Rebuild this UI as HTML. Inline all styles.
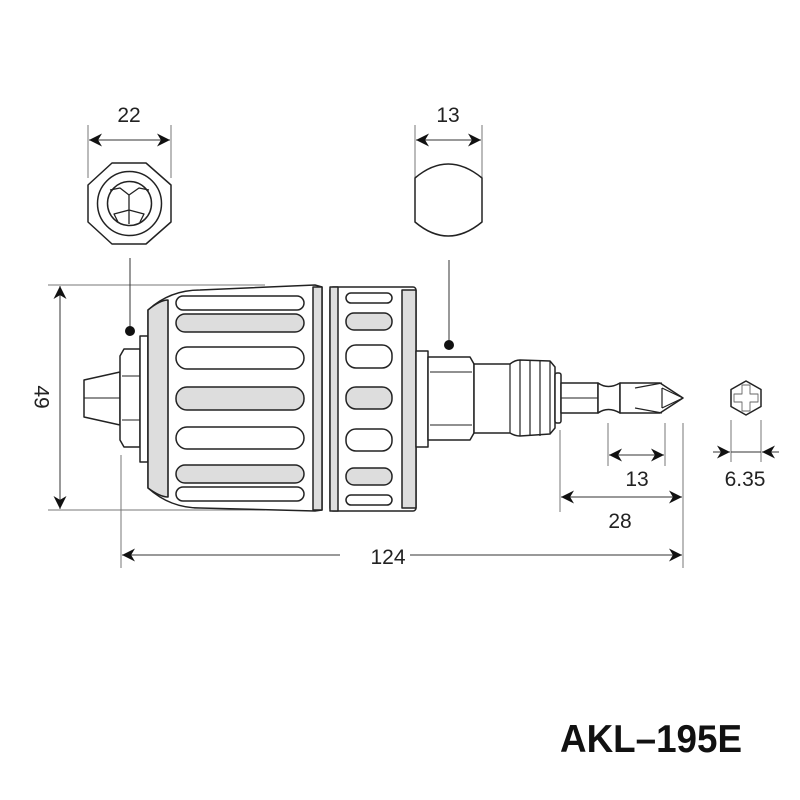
<!DOCTYPE html>
<html><head><meta charset="utf-8"><style>body{margin:0;background:#fff}svg{display:block}text{font-family:"Liberation Sans",sans-serif;fill:#222}</style></head><body>
<svg width="800" height="800" viewBox="0 0 800 800" xmlns="http://www.w3.org/2000/svg">
<defs>
<marker id="a" viewBox="0 0 10 10" refX="10" refY="5" markerWidth="15" markerHeight="13" markerUnits="userSpaceOnUse" orient="auto-start-reverse"><path d="M0,0 L10,5 L0,10 L3,5Z" fill="#111"/></marker>
</defs>
<g stroke="#777" stroke-width="1" fill="none">
<line x1="88" y1="125" x2="88" y2="178"/><line x1="171" y1="125" x2="171" y2="178"/>
<line x1="89" y1="140" x2="170" y2="140" stroke="#333" marker-start="url(#a)" marker-end="url(#a)"/>
<line x1="415" y1="125" x2="415" y2="178"/><line x1="482" y1="125" x2="482" y2="178"/>
<line x1="416" y1="140" x2="481" y2="140" stroke="#333" marker-start="url(#a)" marker-end="url(#a)"/>
<line x1="48" y1="285" x2="265" y2="285"/><line x1="48" y1="510" x2="265" y2="510"/>
<line x1="60" y1="286" x2="60" y2="509" stroke="#333" marker-start="url(#a)" marker-end="url(#a)"/>
<line x1="121" y1="455" x2="121" y2="568"/><line x1="683" y1="423" x2="683" y2="568"/>
<line x1="122" y1="555" x2="682" y2="555" stroke="#333" marker-start="url(#a)" marker-end="url(#a)"/>
<line x1="560" y1="430" x2="560" y2="512"/>
<line x1="561" y1="497" x2="682" y2="497" stroke="#333" marker-start="url(#a)" marker-end="url(#a)"/>
<line x1="608" y1="423" x2="608" y2="466"/><line x1="665" y1="423" x2="665" y2="466"/>
<line x1="609" y1="455" x2="664" y2="455" stroke="#333" marker-start="url(#a)" marker-end="url(#a)"/>
<line x1="731" y1="420" x2="731" y2="462"/><line x1="761" y1="420" x2="761" y2="462"/>
<line x1="713" y1="452" x2="730" y2="452" stroke="#333" marker-end="url(#a)"/>
<line x1="779" y1="452" x2="762" y2="452" stroke="#333" marker-end="url(#a)"/>
<line x1="731" y1="452" x2="761" y2="452" stroke="#333"/>
<line x1="130" y1="258" x2="130" y2="330" stroke="#333"/>
<line x1="449" y1="260" x2="449" y2="344" stroke="#333"/>
</g>
<rect x="340" y="545" width="70" height="20" fill="#fff"/>
<circle cx="130" cy="331" r="5" fill="#111"/><circle cx="449" cy="345" r="5" fill="#111"/>
<g font-size="21" text-anchor="middle">
<text x="129" y="122">22</text><text x="448" y="122">13</text>
<text x="388" y="564">124</text><text x="620" y="528">28</text><text x="637" y="486">13</text><text x="745" y="486">6.35</text>
<text x="40" y="397" transform="rotate(90 40 397)" dominant-baseline="middle">49</text>
</g>
<g stroke="#222" stroke-width="1.5" fill="#fff" stroke-linejoin="round">
<polygon points="112,163 146,163 171,185 171,222 146,244 112,244 88,222 88,185"/>
<circle cx="129.5" cy="203.5" r="32"/>
<circle cx="129.5" cy="203.5" r="22"/>
<path d="M110,190 L120,188 L129,195 L139,188 L149,190 M129,195 L129,224 M129,210 L114,214 L118,222 M129,210 L144,214 L140,222" fill="none" stroke-width="1.3"/>
<path d="M415,178 Q448,150 482,178 L482,222 Q448,250 415,222 Z"/>
<polygon points="84,380 120,372 120,425 84,417"/>
<line x1="84" y1="398" x2="120" y2="398" stroke-width="1"/>
<polygon points="124,349 140,349 140,447 124,447 120,440 120,356"/>
<line x1="122" y1="376" x2="140" y2="376" stroke-width="1"/><line x1="122" y1="420" x2="140" y2="420" stroke-width="1"/>
<rect x="140" y="336" width="8" height="126" fill="#fff"/>
<path d="M148,310 Q170,290 200,290 L315,285 L322,287 L322,510 L315,511 L200,508 Q170,508 148,488 Z" fill="#fff"/>
<path d="M148,310 Q160,300 168,300 L168,497 Q160,497 148,488 Z" fill="#ddd"/>
<rect x="313" y="287" width="9" height="223" fill="#ddd"/>
<line x1="168" y1="300" x2="168" y2="497" stroke-width="1.2"/>
<rect x="330" y="287" width="86" height="224" rx="3" fill="#fff"/>
<rect x="330" y="287" width="8" height="224" fill="#ddd"/>
<rect x="402" y="290" width="14" height="218" fill="#ddd"/>
<rect x="176" y="296" width="128" height="14" rx="7"/>
<rect x="176" y="314" width="128" height="18" rx="9" fill="#ddd"/>
<rect x="176" y="347" width="128" height="22" rx="11"/>
<rect x="176" y="387" width="128" height="23" rx="11" fill="#ddd"/>
<rect x="176" y="427" width="128" height="22" rx="11"/>
<rect x="176" y="465" width="128" height="18" rx="9" fill="#ddd"/>
<rect x="176" y="487" width="128" height="14" rx="7"/>
<rect x="346" y="293" width="46" height="10" rx="5"/>
<rect x="346" y="313" width="46" height="17" rx="8" fill="#ddd"/>
<rect x="346" y="345" width="46" height="23" rx="10"/>
<rect x="346" y="387" width="46" height="22" rx="10" fill="#ddd"/>
<rect x="346" y="429" width="46" height="22" rx="10"/>
<rect x="346" y="468" width="46" height="17" rx="8" fill="#ddd"/>
<rect x="346" y="495" width="46" height="10" rx="5"/>
<rect x="416" y="351" width="12" height="96"/>
<polygon points="428,357 470,357 474,364 474,433 470,440 428,440"/>
<line x1="430" y1="372" x2="472" y2="372" stroke-width="1"/><line x1="430" y1="425" x2="472" y2="425" stroke-width="1"/>
<path d="M474,364 L510,364 Q515,360 520,360 L550,361 L555,367 L555,428 L550,434 L520,436 Q515,436 510,433 L474,433 Z"/>
<path d="M510,364 L510,433 M520,360 L520,436 M530,360 L530,436 M540,360 L540,436 M550,361 L550,434" fill="none" stroke-width="1.2"/>
<rect x="555" y="373" width="6" height="50" rx="2"/>
<rect x="561" y="383" width="37" height="30"/>
<line x1="561" y1="398" x2="598" y2="398" stroke-width="1"/>
<path d="M598,383 Q608,390 620,383 L620,413 Q608,406 598,413 Z"/>
<path d="M620,383 L660,383 L683,398 L660,413 L620,413 Z"/>
<path d="M635,388 L662,383 M635,408 L662,413 M662,388 L662,408 M662,388 L683,398 L662,408" fill="none" stroke-width="1.2"/>
<polygon points="746,381 761,389.5 761,406.5 746,415 731,406.5 731,389.5"/>
<path d="M742,385 L750,385 L750,394 L758,394 L758,402 L750,402 L750,411 L742,411 L742,402 L734,402 L734,394 L742,394 Z" fill="none" stroke-width="0.9" stroke="#666"/>
</g>
<text x="560" y="752" font-size="39" font-weight="bold" textLength="182" lengthAdjust="spacingAndGlyphs" style="fill:#111">AKL–195E</text>
</svg>
</body></html>
